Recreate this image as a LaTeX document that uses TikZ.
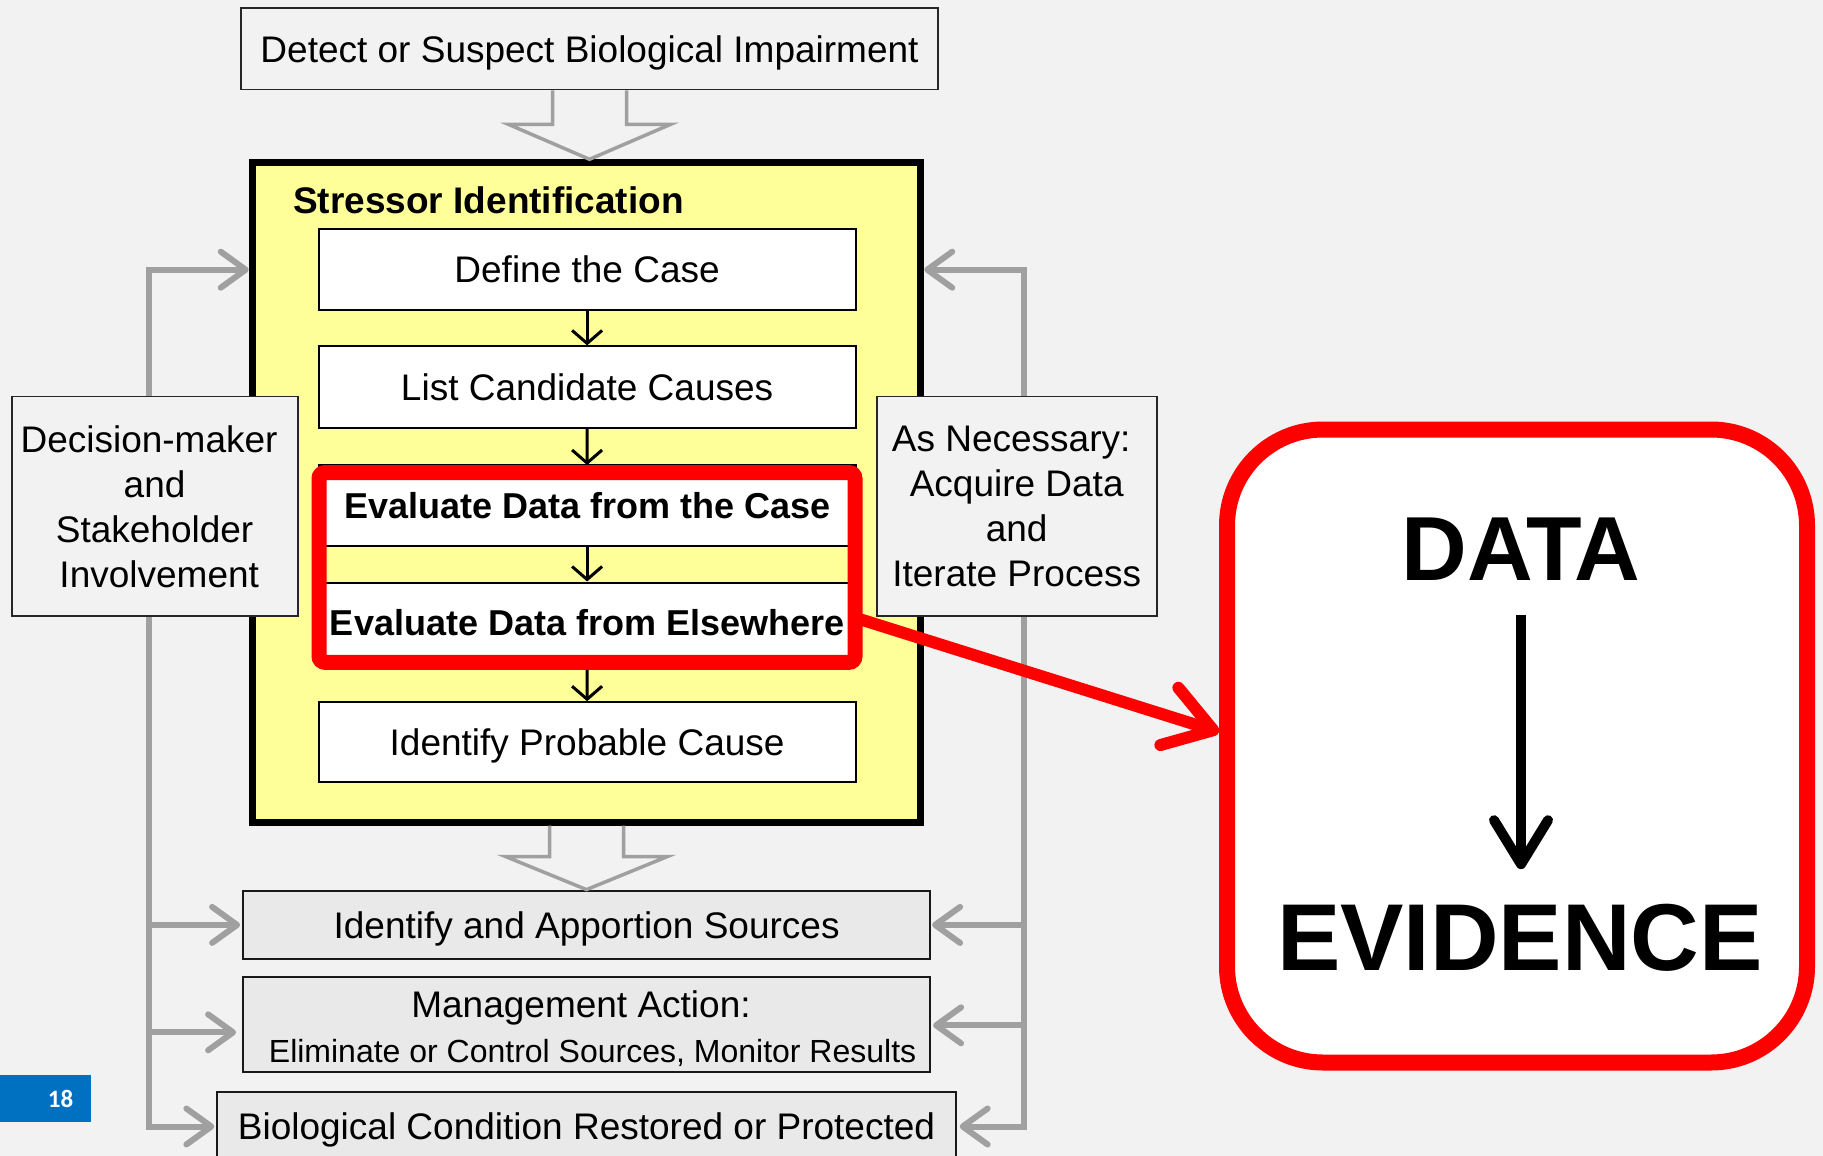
\documentclass[tikz,border=0pt]{standalone}
\usepackage{fontspec}
\setmainfont{Liberation Sans}
\newfontfamily\numfont{Carlito}
\usetikzlibrary{arrows.meta,calc}

\definecolor{pagebg}{HTML}{F2F2F2}
\definecolor{lowfill}{HTML}{E9E9E9}
\definecolor{siyellow}{HTML}{FFFF99}
\definecolor{fbgray}{HTML}{A0A0A0}
\definecolor{hlred}{HTML}{FF0000}
\definecolor{slideblue}{HTML}{0070C0}

\begin{document}
\begin{tikzpicture}[x=1pt,y=-1pt,
  txt/.style={font=\fontsize{37}{45}\selectfont},
  % centre single lines on their capital height
  capcenter/.style={text height=#1, text depth=0pt},
  capcenter/.default=26.5pt,
  boldtxt/.style={font=\bfseries\fontsize{36}{43}\selectfont, capcenter=25.8pt},
  plainbox/.style={draw=black!85, line width=1.8, fill=pagebg, inner sep=0, txt, capcenter},
  stepbox/.style={draw=black, line width=2, fill=white, inner sep=0,
    minimum width=537.2, minimum height=81.4, txt, capcenter},
  lowbox/.style={draw=black!90, line width=2, fill=lowfill, inner sep=0, txt, capcenter},
  sidebox/.style={draw=black!85, line width=1.8, fill=pagebg, inner sep=0,
    align=center, txt},
  steparrow/.style={draw=black, line width=3,
    -{Straight Barb[length=13pt,width=30pt]}},
  blockarrow/.style={draw=fbgray, line width=3.5, line join=miter},
  fb/.style={draw=fbgray, line width=6,
    -{Straight Barb[length=25pt,width=36pt,round]}},
  redarrow/.style={draw=hlred, line width=12, line cap=round,
    -{Straight Barb[length=46pt,width=60pt,round]}}
]
% page
\fill[pagebg] (0,0) rectangle (1823,1156);
\useasboundingbox (0,0) rectangle (1823,1156);
\clip (0,0) rectangle (1823,1156);

% top box
\node[plainbox, minimum width=697.5, minimum height=81.4] (detect) at (589.5,48.8)
  {Detect or Suspect Biological Impairment};

% stressor identification frame
\node[draw=black, line width=7, fill=siyellow, inner sep=0,
  minimum width=668.5, minimum height=659.2] (si) at (586.5,492.4) {};
\node[anchor=west, inner sep=0, capcenter, font=\bfseries\fontsize{37}{45}\selectfont] (sititle)
  at (293,200) {Stressor Identification};

\node[stepbox] (define) at (587.1,269.7) {Define the Case};
\node[stepbox] (list) at (587.1,387.1) {List Candidate Causes};
\node[stepbox, boldtxt] (evcase) at (587.1,505.7) {Evaluate Data from the Case};
\node[stepbox, boldtxt, minimum height=80.2] (evelse) at (587.1,622.6) {Evaluate Data from Elsewhere};
\node[stepbox, minimum height=80.2] (probable) at (587.1,742.3) {Identify Probable Cause};

% highlight around the two evaluation steps
\node[draw=hlred, line width=15, rounded corners=6, inner sep=0,
  minimum width=536, minimum height=189.8] (focus) at (587,567.4) {};

\draw[steparrow] (define) -- (list);
\draw[steparrow] (list) -- (focus);
\draw[steparrow] (evcase) -- (evelse);
\draw[steparrow] (focus) -- (probable);

% lower steps
\node[lowbox, minimum width=687, minimum height=68.6] (ia) at (586.6,924.9)
  {Identify and Apportion Sources};
\node[lowbox, minimum width=687, minimum height=95.3] (ma) at (586.6,1024.3) {};
\node[inner sep=0, txt, capcenter] (matitle) at (581,1004.5) {Management Action:};
\node[inner sep=0, capcenter=22.9pt, font=\fontsize{32}{38}\selectfont] (matext) at (592.6,1051)
  {Eliminate or Control Sources, Monitor Results};
\node[lowbox, anchor=north, minimum width=738.3, minimum height=70] (bio) at (586.5,1090.5)
  {Biological Condition Restored or Protected};

% hollow block arrows
\draw[blockarrow] ($(detect.south)+(-37,0)$) -- ++(0,34) -- ++(-44,0)
  -- (detect.south |- si.north) -- ($(detect.south)+(81,34)$) -- ++(-44,0) -- ++(0,-34);
\draw[blockarrow] ($(si.south)+(-37,0)$) -- ++(0,31) -- ++(-44,0)
  -- (si.south |- ia.north) -- ($(si.south)+(81,31)$) -- ++(-44,0) -- ++(0,-31);

% side boxes
\node[sidebox, minimum width=286, minimum height=219.8] (dm) at (154.6,506.3)
  {Decision-maker\hspace*{.3em}\\and\hspace*{.3em}\\Stakeholder\\\hspace*{.25em}Involvement};
\node[sidebox, minimum width=280.2, minimum height=219.8] (an) at (1016.7,506.3)
  {As Necessary:\hspace*{.3em}\\Acquire Data\hspace*{.3em}\\and\hspace*{.3em}\\Iterate Process};

% feedback loops
\coordinate (ltrunk) at ([xshift=-5.8]dm.south);
\coordinate (rtrunk) at ([xshift=7.6]an.south);
\coordinate (mal) at ([yshift=-8]ma.west);
\coordinate (mar) at ([yshift=-1]ma.east);

\draw[fb] ([xshift=-5.8]dm.north) |- (si.west |- define.center);
\draw[fb] ([xshift=7.6]an.north) |- (si.east |- define.center);

\draw[fb, shorten >=2] (ltrunk) |- (bio.west);
\draw[fb, shorten >=2] (ltrunk |- ia.west) -- (ia.west);
\draw[fb, shorten >=6] (ltrunk |- mal) -- (mal);
\draw[fb, shorten >=3] (rtrunk) |- (bio.east);
\draw[fb, shorten >=1] (rtrunk |- ia.east) -- (ia.east);
\draw[fb, shorten >=2] (rtrunk |- mar) -- (mar);

% data to evidence panel
\node[draw=hlred, line width=16, fill=white, rounded corners=96, inner sep=0,
  minimum width=580, minimum height=633] (ev) at (1517,746) {};
\draw[redarrow] ([yshift=-52.6]focus.east) -- ([yshift=14]ev.west);

\node[inner sep=0, font=\bfseries\fontsize{91}{91}\selectfont] (data) at (1521,548.7) {DATA};
\node[inner sep=0, font=\bfseries\fontsize{95}{95}\selectfont] (evid) at (1520,938) {EVIDENCE};
\draw[line width=10, -{Straight Barb[length=44pt,width=54pt,round]},
  shorten <=35, shorten >=35] (data.south) -- (data.south |- evid.north);

% slide number
\node[fill=slideblue, inner sep=0, minimum width=90.7, minimum height=46.5] (pg) at (45.35,1098.6) {};
\node[inner sep=0, text=white, font=\numfont\bfseries\fontsize{25}{25}\selectfont] (pgnum)
  at (60.6,1099.3) {18};
\end{tikzpicture}
\end{document}
